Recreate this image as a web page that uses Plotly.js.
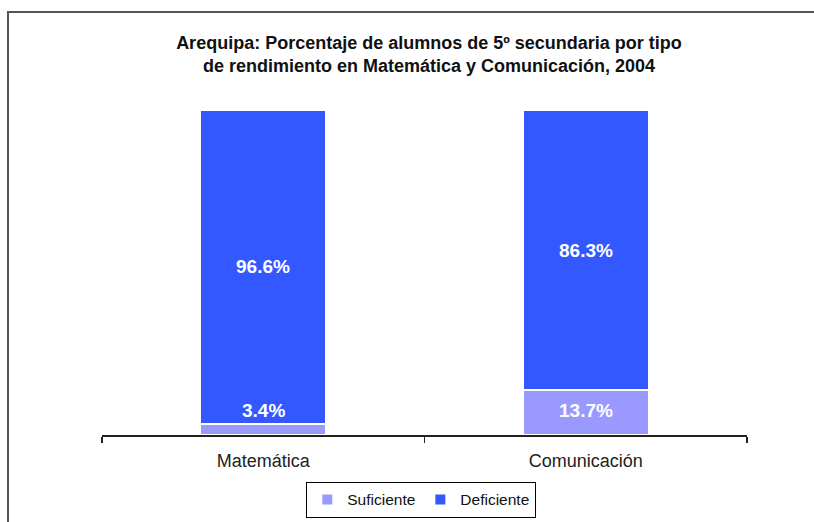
<!DOCTYPE html>
<html>
<head>
<meta charset="utf-8">
<script src="https://cdn.plot.ly/plotly-3.0.1.min.js"></script>
<style>
  html, body { margin: 0; padding: 0; background: #fff; }
  #chart { position: absolute; left: 0; top: 0; width: 814px; height: 522px; }
  #frame { position: absolute; left: 7px; top: 11px; width: 900px; height: 600px;
           border-left: 2px solid #555; border-top: 2px solid #555; pointer-events: none; }
</style>
</head>
<body>
<div id="chart"></div>
<div id="frame"></div>
<script>
const categories = ["Matemática", "Comunicación"];
const suficiente = [3.4, 13.7];
const deficiente = [96.6, 86.3];
const seriesNames = ["Suficiente", "Deficiente"];
const titleText = "Arequipa: Porcentaje de alumnos de 5º secundaria por tipo<br>de rendimiento en Matemática y Comunicación, 2004";

const fmt = v => v.toFixed(1) + "%";

const traces = [
  {
    type: "bar", name: seriesNames[0], x: categories, y: suficiente,
    marker: { color: "#9999FF", line: { color: "#FFFFFF", width: 2 } },
    hoverinfo: "skip"
  },
  {
    type: "bar", name: seriesNames[1], x: categories, y: deficiente,
    marker: { color: "#3358FF", line: { color: "#FFFFFF", width: 2 } },
    hoverinfo: "skip"
  }
];

const labelFont = { family: "Liberation Sans, Arial, sans-serif", size: 19, color: "#FFFFFF" };
const annotations = [];
categories.forEach((c, i) => {
  annotations.push({ x: c, y: Math.max(suficiente[i] / 2, 7.6), xref: "x", yref: "y",
    text: "<b>" + fmt(suficiente[i]) + "</b>", showarrow: false, font: labelFont });
  annotations.push({ x: c, y: suficiente[i] + deficiente[i] / 2, xref: "x", yref: "y",
    text: "<b>" + fmt(deficiente[i]) + "</b>", showarrow: false, font: labelFont });
});

const layout = {
  width: 814, height: 522,
  margin: { l: 102, r: 67, t: 110, b: 87, autoexpand: false },
  paper_bgcolor: "#FFFFFF", plot_bgcolor: "#FFFFFF",
  barmode: "stack", bargap: 0.61,
  font: { family: "Liberation Sans, Arial, sans-serif", size: 17, color: "#222" },
  title: {
    text: "<b>" + titleText + "</b>",
    font: { family: "Liberation Sans, Arial, sans-serif", size: 18, color: "#111" },
    x: 0.527, xanchor: "center", y: 0.907, yanchor: "top"
  },
  xaxis: {
    type: "category", showline: true, linecolor: "#222", linewidth: 1.5,
    ticks: "outside", tickson: "boundaries", ticklen: 6, tickcolor: "#222", tickwidth: 1.5,
    tickfont: { size: 18, color: "#222" }, ticklabelstandoff: 9,
    showgrid: false, zeroline: false, fixedrange: true, automargin: false
  },
  yaxis: {
    range: [0, 100], visible: false, showgrid: false, zeroline: false, fixedrange: true
  },
  showlegend: true,
  legend: {
    orientation: "h", x: 0.495, xanchor: "center", yref: "container", y: 0.008, yanchor: "bottom",
    bordercolor: "#000", borderwidth: 1, font: { size: 15.5, color: "#111" },
    traceorder: "normal", itemwidth: 30, tracegroupgap: 0
  },
  annotations: annotations
};

Plotly.newPlot("chart", traces, layout, { displayModeBar: false, staticPlot: true });
</script>
</body>
</html>
